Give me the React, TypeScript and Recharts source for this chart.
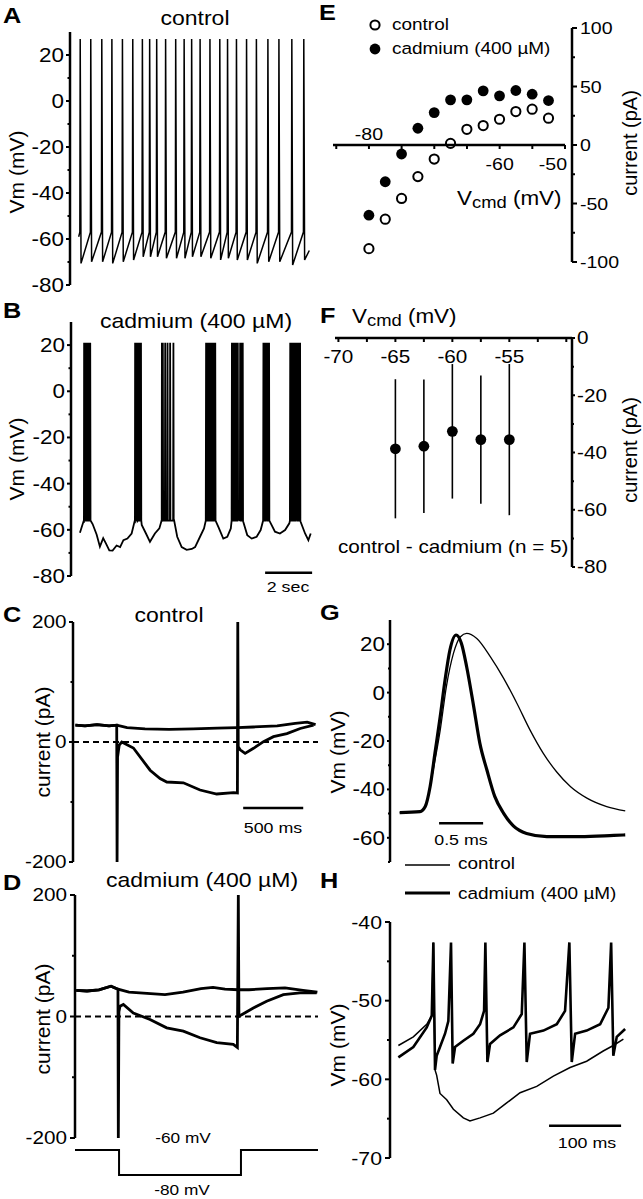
import React from 'react';
import { LineChart, Line, ScatterChart, Scatter, ErrorBar, XAxis, YAxis, ReferenceLine } from 'recharts';

const FONT = '"Liberation Sans", Arial, Helvetica, sans-serif';
const SX = 1.15; // lettering in the figure is a bit stretched sideways
const INK = '#000';

// ---------- A: control, regular firing (time s, Vm mV)
const spikeTimesA = [0.43, 0.88, 1.35, 1.78, 2.23, 2.67, 3.08, 3.39, 3.69, 4.07, 4.5, 4.86, 5.18, 5.54, 5.96, 6.38, 6.71, 7.09, 7.52, 7.94, 8.43, 8.9, 9.45, 9.96];
const troughsA = [-70.6, -69.9, -69.9, -70.6, -69.9, -69.1, -67.7, -67.7, -67.7, -68.4, -68.4, -68.4, -67.7, -67.7, -68.4, -69.1, -68.4, -69.1, -69.1, -70.6, -69.9, -69.9, -71.3, -69.1];
const peakA = 27;
const thresholdA = -57;
const startA = [0.37, -59];
const endA = [10.2, -65];

// ---------- B: cadmium, bursting (time s, Vm mV)
const baselineB = [
  [0.38, -61.3], [0.55, -57], [0.81, -55], [0.92, -57.5], [1.09, -62], [1.23, -67.3], [1.37, -63.6], [1.49, -66],
  [1.63, -68.9], [1.77, -69], [1.94, -66.8], [2.09, -67.5], [2.23, -64.5], [2.4, -63.8], [2.58, -61.6], [2.72, -57.2],
  [2.86, -55.7], [3.01, -57.9], [3.19, -61.6], [3.36, -65.2], [3.57, -61.6], [3.76, -59.4], [3.86, -56.5], [4.21, -55.7],
  [4.38, -55.5], [4.52, -63], [4.71, -67.5], [4.92, -68.7], [5.14, -68.3], [5.28, -67.5], [5.49, -63], [5.66, -59.4],
  [5.91, -55.7], [6.13, -55.7], [6.27, -58.7], [6.48, -63.8], [6.65, -63], [6.8, -59.4], [7.12, -54.3], [7.33, -56.5],
  [7.5, -62.3], [7.69, -63.8], [7.9, -63], [8.07, -60.1], [8.33, -54.3], [8.5, -57.2], [8.68, -60.8], [8.89, -61.6],
  [9.11, -60.1], [9.29, -57.2], [9.6, -55], [9.77, -56.5], [9.96, -61.6], [10.1, -64.5], [10.2, -61.6],
];
const spikeTimesB = [
  0.55, 0.6, 0.65, 0.7, 0.76, 0.81,
  2.72, 2.77, 2.82, 2.87, 2.92, 2.97,
  3.86, 3.9, 4.0, 4.1, 4.21, 4.35,
  5.74, 5.79, 5.85, 5.9, 5.96, 6.02, 6.08, 6.13,
  6.84, 6.89, 6.94, 6.99, 7.04, 7.09, 7.19, 7.25, 7.3,
  8.18, 8.24, 8.3, 8.36, 8.42,
  9.32, 9.38, 9.44, 9.5, 9.56, 9.62, 9.68, 9.74,
];
const peakB = 21;
const floorB = -56;

// ---------- C: control currents (time s, pA)
const upperC = [[0.02, 28], [0.1, 27], [0.2, 29], [0.3, 27], [0.364, 28], [0.45, 24], [0.6, 22], [0.8, 21], [1.0, 22], [1.2, 23], [1.37, 24], [1.5, 25], [1.7, 27], [1.85, 31], [1.95, 33], [2.02, 29]];
const lowerC = [
  [0.02, 28], [0.1, 27], [0.2, 29], [0.3, 27], [0.364, 28], [0.367, -200], [0.371, -25], [0.385, -5], [0.406, 0],
  [0.503, -10], [0.642, -47], [0.725, -61], [0.781, -66.7], [0.919, -68], [1.058, -80], [1.197, -86.7], [1.336, -84.4],
  [1.369, -85], [1.372, 200], [1.376, -8], [1.392, -13], [1.433, -19], [1.503, -10.5], [1.586, 0.5], [1.669, 8.9],
  [1.781, 14], [1.892, 22.5], [2.003, 28],
];

// ---------- D: cadmium currents (time s, pA) and the voltage step
const upperD = [[0.01, 43], [0.1, 42], [0.2, 44], [0.3, 50], [0.358, 45], [0.45, 40], [0.6, 38], [0.75, 36], [0.9, 40], [1.05, 46], [1.15, 48], [1.25, 45], [1.36, 44], [1.45, 44], [1.6, 46], [1.75, 47], [1.9, 43], [2.02, 40]];
const lowerD = [
  [0.01, 43], [0.1, 42], [0.2, 44], [0.3, 50], [0.358, 45], [0.361, -200], [0.366, 8], [0.375, 17], [0.403, 19.7],
  [0.486, 5.8], [0.625, -4.9], [0.764, -18.6], [0.903, -24], [1.042, -35], [1.181, -43], [1.319, -46], [1.353, -51],
  [1.361, 200], [1.366, 0], [1.389, 3], [1.486, 14], [1.597, 25], [1.736, 36], [1.875, 39], [2.014, 39],
];
const protocolD = [[0, -60], [0.367, -60], [0.367, -80], [1.383, -80], [1.383, -60], [2.025, -60]];

// ---------- E: I-V (mV, pA)
const vcmdE = [-80, -77.5, -75, -72.5, -70, -67.5, -65, -62.5, -60, -57.5, -55, -52.5];
const controlE = [-88.6, -63.4, -45.7, -27, -12, 1.4, 13.4, 16.6, 22, 28.6, 30.6, 22.9];
const cadmiumE = [-60, -31.4, -7.7, 14.3, 27.7, 38.6, 38.6, 46.3, 42, 46.6, 43.4, 38];

// ---------- F: difference current, mean +/- SD (mV, pA)
const vcmdF = [-65, -62.5, -60, -57.5, -55];
const meanF = [-38.7, -37.8, -32.6, -35.5, -35.5];
const sdF = [24.3, 23.3, 23.5, 22.4, 26.4];

// ---------- G: spike shape (ms, mV)
const controlG = [[0.11, -49.6], [0.34, -49.2], [0.42, -45], [0.49, -32], [0.57, -15.5], [0.64, 2.5], [0.72, 16.2], [0.8, 23.1], [0.87, 24.5], [0.985, 22.4], [1.14, 14.8], [1.29, 5.9], [1.44, -4.4], [1.59, -15.5], [1.74, -25.1], [1.89, -32.7], [2.05, -38.9], [2.24, -43.7], [2.46, -47.1], [2.67, -48.9]];
const cadmiumG = [[0.11, -49.6], [0.34, -49.2], [0.4, -47.1], [0.455, -38.9], [0.51, -25.1], [0.57, -9.9], [0.625, 5.2], [0.68, 17.6], [0.75, 23.8], [0.81, 20.4], [0.87, 10.7], [0.95, -5.8], [1.02, -21], [1.1, -32], [1.19, -43], [1.29, -49.9], [1.4, -55.1], [1.55, -58.2], [1.78, -59.5], [2.16, -59.5], [2.54, -59], [2.67, -58.8]];

// ---------- H: after-hyperpolarisation (ms, mV)
const controlH = [[11.6, -55.7], [32.4, -54.6], [51, -53], [58, -51.9], [60.2, -42.6], [62.5, -58.8], [64.8, -59.5], [69.4, -61.8], [78.7, -62.6], [88, -63.8], [101.8, -64.9], [111, -65.3], [125, -64.9], [143.5, -64.3], [162, -63], [180.6, -61.7], [203.7, -60.9], [226.8, -59.6], [250, -58.5], [273, -57.7], [296, -56.4], [310, -55.7], [324, -54.9]];
const cadmiumH = [[11.6, -57.2], [32.4, -55.9], [51, -53.4], [58, -51.9], [60.2, -42.6], [62.5, -58.8], [64.8, -57], [69.4, -55.9], [76.4, -54.2], [81, -52.6], [84.7, -42.6], [87, -58], [90.3, -55.9], [101.8, -55.1], [115.7, -54.2], [125, -53], [130.6, -51.3], [132.4, -42.6], [135.2, -57.8], [138.9, -55.5], [152.8, -54.4], [171.3, -53.4], [182.9, -51.7], [186.6, -42.6], [189.8, -57.8], [194.4, -54.2], [213, -53.8], [231.5, -53], [243, -51.3], [249, -42.6], [252.3, -57.8], [257, -54.2], [273, -53.8], [291.7, -53], [303.2, -50.9], [307, -42.6], [310, -57], [314.8, -54.6], [326.4, -53.6]];

// ---------- ticks
const vmTicks = [-80, -70, -60, -50, -40, -30, -20, -10, 0, 10, 20];
const vmLabels = [-80, -60, -40, -20, 0, 20];
const pATicks = [-200, -100, 0, 100, 200];
const pALabels = [-200, 0, 200];
const eTicks = [-100, -75, -50, -25, 0, 25, 50, 75, 100];
const eLabels = [-100, -50, 0, 50, 100];
const eXTicks = [-85, -80, -75, -70, -65, -60, -55, -50];
const eXLabels = [-80, -60, -50];
const fTicks = [-80, -70, -60, -50, -40, -30, -20, -10, 0];
const fLabels = [-80, -60, -40, -20, 0];
const fXTicks = [-70, -67.5, -65, -62.5, -60, -57.5, -55, -52.5, -50];
const fXLabels = [-70, -65, -60, -55];
const gTicks = [-70, -60, -50, -40, -30, -20, -10, 0, 10, 20];
const gLabels = [-60, -40, -20, 0, 20];
const hTicks = [-70, -65, -60, -55, -50, -45, -40];
const hLabels = [-70, -60, -50, -40];

const rows = (pts: number[][]) => pts.map(([t, v]) => ({ t, v }));

const traceA = [
  { t: startA[0], v: startA[1] },
  ...spikeTimesA.flatMap((t, i) => [
    { t: t - 0.01, v: thresholdA },
    { t: t + 0.005, v: peakA },
    { t: t + 0.04, v: troughsA[i] },
  ]),
  { t: endA[0], v: endA[1] },
];

const traceB = [
  ...rows(baselineB),
  ...spikeTimesB.flatMap((t) => [
    { t: t - 0.005, v: floorB },
    { t: t + 0.008, v: peakB },
    { t: t + 0.02, v: floorB },
  ]),
].sort((a, b) => a.t - b.t);

const rowsE = (ys: number[]) => vcmdE.map((x, i) => ({ x, y: ys[i] }));
const rowsF = vcmdF.map((x, i) => ({ x, y: meanF[i], sd: sdF[i] }));

const axisLine = { stroke: INK, strokeWidth: 2.5 };

const SText = ({ x, y, size, anchor = 'start', bold = false, children }: any) => (
  <text
    transform={`translate(${x} ${y}) scale(${SX} 1)`}
    fontSize={size}
    fontWeight={bold ? 700 : 400}
    textAnchor={anchor}
    fontFamily={FONT}
    fill={INK}
  >
    {children}
  </text>
);

const VText = ({ x, y, size = 21, children }: any) => (
  <text
    transform={`translate(${x} ${y}) rotate(-90)`}
    fontSize={size}
    textAnchor="middle"
    dominantBaseline="central"
    fontFamily={FONT}
    fill={INK}
  >
    {children}
  </text>
);

type TickCfg = { side: 'left' | 'right'; labels: number[]; major: number; minor: number; gap: number; size: number };

const yTick = (c: TickCfg) => (p: any) => {
  const v = p.payload.value;
  const big = c.labels.includes(v);
  const d = c.side === 'left' ? -1 : 1;
  const len = big ? c.major : c.minor;
  return (
    <g>
      <line x1={p.x} y1={p.y} x2={p.x + d * len} y2={p.y} stroke={INK} strokeWidth={2} />
      {big && (
        <SText x={p.x + d * (len + c.gap)} y={p.y + c.size * 0.36} size={c.size} anchor={c.side === 'left' ? 'end' : 'start'}>
          {String(v)}
        </SText>
      )}
    </g>
  );
};

const tickEX = (p: any) => {
  const v = p.payload.value;
  const above = v === -80;
  return (
    <g>
      <line x1={p.x} y1={p.y} x2={p.x} y2={p.y + 4} stroke={INK} strokeWidth={2} />
      {eXLabels.includes(v) && (
        <SText x={v === -50 ? p.x + 2 : p.x} y={above ? p.y - 5 : p.y + 25} size={17} anchor={v === -50 ? 'end' : 'middle'}>
          {String(v)}
        </SText>
      )}
    </g>
  );
};

const tickFX = (p: any) => {
  const v = p.payload.value;
  return (
    <g>
      <line x1={p.x} y1={p.y} x2={p.x} y2={p.y + 4} stroke={INK} strokeWidth={2} />
      {fXLabels.includes(v) && (
        <SText x={p.x} y={p.y + 25} size={18} anchor="middle">
          {String(v)}
        </SText>
      )}
    </g>
  );
};

const openDot = (p: any) => <circle cx={p.cx} cy={p.cy} r={4.6} fill="#fff" stroke={INK} strokeWidth={2} />;
const filledDot = (p: any) => <circle cx={p.cx} cy={p.cy} r={5.4} fill={INK} />;

const Box = ({ left, top, children }: any) => (
  <div style={{ position: 'absolute', left, top }}>{children}</div>
);

export default function App() {
  return (
    <div style={{ position: 'absolute', left: 0, top: 0, width: 643, height: 1199, background: '#fff', overflow: 'hidden', fontFamily: FONT }}>
      {/* A */}
      <Box left={0} top={0}>
        <LineChart width={320} height={300} margin={{ top: 32, right: 6, bottom: 15, left: 0 }}>
          <XAxis type="number" dataKey="t" domain={[0, 10.4]} hide allowDataOverflow />
          <YAxis width={70} domain={[-80, 30]} ticks={vmTicks} interval={0} tickSize={0} tickMargin={0} tickLine={false} axisLine={axisLine}
            tick={yTick({ side: 'left', labels: vmLabels, major: 4, minor: 2.5, gap: 2, size: 19.5 })} />
          <Line data={traceA} dataKey="v" type="linear" stroke={INK} strokeWidth={1.5} dot={false} isAnimationActive={false} />
        </LineChart>
      </Box>

      {/* B */}
      <Box left={0} top={300}>
        <LineChart width={320} height={290} margin={{ top: 22, right: 6, bottom: 14, left: 0 }}>
          <XAxis type="number" dataKey="t" domain={[0, 10.34]} hide allowDataOverflow />
          <YAxis width={71} domain={[-80, 30]} ticks={vmTicks} interval={0} tickSize={0} tickMargin={0} tickLine={false} axisLine={axisLine}
            tick={yTick({ side: 'left', labels: vmLabels, major: 4, minor: 2.5, gap: 2, size: 19.5 })} />
          <Line data={traceB} dataKey="v" type="linear" stroke={INK} strokeWidth={1.8} dot={false} isAnimationActive={false} />
          <ReferenceLine segment={[{ x: 8.26, y: -78.6 }, { x: 10.26, y: -78.6 }]} stroke={INK} strokeWidth={2.5} />
        </LineChart>
      </Box>

      {/* C */}
      <Box left={0} top={600}>
        <LineChart width={320} height={280} margin={{ top: 22, right: 2, bottom: 18, left: 0 }}>
          <XAxis type="number" dataKey="t" domain={[0, 2.04]} hide allowDataOverflow />
          <YAxis width={73} domain={[-200, 200]} ticks={pATicks} interval={0} tickSize={0} tickMargin={0} tickLine={false} axisLine={axisLine}
            tick={yTick({ side: 'left', labels: pALabels, major: 4, minor: 2.5, gap: 2.5, size: 18 })} />
          <ReferenceLine y={0} stroke={INK} strokeWidth={2} strokeDasharray="6 4" />
          <Line data={rows(upperC)} dataKey="v" type="linear" stroke={INK} strokeWidth={2.8} dot={false} isAnimationActive={false} />
          <Line data={rows(lowerC)} dataKey="v" type="linear" stroke={INK} strokeWidth={2.8} dot={false} isAnimationActive={false} />
          <ReferenceLine segment={[{ x: 1.417, y: -110 }, { x: 1.917, y: -110 }]} stroke={INK} strokeWidth={2.5} />
        </LineChart>
      </Box>

      {/* D */}
      <Box left={0} top={870}>
        <LineChart width={320} height={280} margin={{ top: 25, right: 2, bottom: 12, left: 0 }}>
          <XAxis type="number" dataKey="t" domain={[0, 2.025]} hide allowDataOverflow />
          <YAxis width={75} domain={[-200, 200]} ticks={pATicks} interval={0} tickSize={0} tickMargin={0} tickLine={false} axisLine={axisLine}
            tick={yTick({ side: 'left', labels: pALabels, major: 5, minor: 3, gap: 3, size: 18 })} />
          <ReferenceLine y={0} stroke={INK} strokeWidth={2} strokeDasharray="6 4" />
          <Line data={rows(upperD)} dataKey="v" type="linear" stroke={INK} strokeWidth={2.8} dot={false} isAnimationActive={false} />
          <Line data={rows(lowerD)} dataKey="v" type="linear" stroke={INK} strokeWidth={2.8} dot={false} isAnimationActive={false} />
        </LineChart>
      </Box>
      <Box left={0} top={1140}>
        <LineChart width={320} height={45} margin={{ top: 10, right: 2, bottom: 10, left: 75 }}>
          <XAxis type="number" dataKey="t" domain={[0, 2.025]} hide />
          <YAxis hide domain={[-80, -60]} />
          <Line data={rows(protocolD)} dataKey="v" type="linear" stroke={INK} strokeWidth={2} dot={false} isAnimationActive={false} />
        </LineChart>
      </Box>

      {/* E */}
      <Box left={320} top={0}>
        <ScatterChart width={323} height={280} margin={{ top: 28, right: 0, bottom: 18, left: 13 }}>
          <XAxis type="number" dataKey="x" domain={[-85.5, -48.9]} hide allowDataOverflow />
          <YAxis type="number" dataKey="y" orientation="right" width={71} domain={[-100, 100]} ticks={eTicks} interval={0} tickSize={0} tickMargin={0}
            tickLine={false} axisLine={axisLine} tick={yTick({ side: 'right', labels: eLabels, major: 5, minor: 3, gap: 3, size: 17 })} />
          <Scatter data={rowsE(controlE)} shape={openDot} isAnimationActive={false} />
          <Scatter data={rowsE(cadmiumE)} shape={filledDot} isAnimationActive={false} />
        </ScatterChart>
      </Box>
      <Box left={333} top={115}>
        <LineChart width={252} height={60} margin={{ top: 0, right: 20, bottom: 0, left: 0 }}>
          <XAxis type="number" dataKey="x" domain={[-85.5, -50]} ticks={eXTicks} height={30} interval={0} tickSize={0} tickMargin={0}
            tickLine={false} axisLine={axisLine} tick={tickEX} allowDataOverflow />
          <YAxis hide domain={[-1, 1]} />
          <Line data={[{ x: -85.5, y: 0 }, { x: -50, y: 0 }]} dataKey="y" stroke="none" dot={false} isAnimationActive={false} />
        </LineChart>
      </Box>

      {/* F */}
      <Box left={320} top={280}>
        <ScatterChart width={323} height={300} margin={{ top: 28, right: 0, bottom: 13, left: 15 }}>
          <XAxis type="number" dataKey="x" orientation="top" height={30} domain={[-70.3, -49.5]} ticks={fXTicks} interval={0} tickSize={0}
            tickMargin={0} tickLine={false} axisLine={axisLine} tick={tickFX} allowDataOverflow />
          <YAxis type="number" dataKey="y" orientation="right" width={71} domain={[-80, 0]} ticks={fTicks} interval={0} tickSize={0} tickMargin={0}
            tickLine={false} axisLine={axisLine} tick={yTick({ side: 'right', labels: fLabels, major: 3, minor: 2, gap: 2, size: 18 })} />
          <Scatter data={rowsF} shape={filledDot} isAnimationActive={false}>
            <ErrorBar dataKey="sd" direction="y" width={0} stroke={INK} strokeWidth={1.6} isAnimationActive={false} />
          </Scatter>
        </ScatterChart>
      </Box>

      {/* G */}
      <Box left={320} top={600}>
        <LineChart width={323} height={270} margin={{ top: 20, right: 16, bottom: 8, left: 0 }}>
          <XAxis type="number" dataKey="t" domain={[0, 2.69]} hide allowDataOverflow />
          <YAxis width={70} domain={[-70, 30]} ticks={gTicks} interval={0} tickSize={0} tickMargin={0} tickLine={false} axisLine={axisLine}
            tick={yTick({ side: 'left', labels: gLabels, major: 3, minor: 2, gap: 2, size: 19.5 })} />
          <Line data={rows(controlG)} dataKey="v" type="monotone" stroke={INK} strokeWidth={1.3} dot={false} isAnimationActive={false} />
          <Line data={rows(cadmiumG)} dataKey="v" type="monotone" stroke={INK} strokeWidth={3.2} dot={false} isAnimationActive={false} />
          <ReferenceLine segment={[{ x: 0.557, y: -54 }, { x: 1.057, y: -54 }]} stroke={INK} strokeWidth={2.5} />
        </LineChart>
      </Box>

      {/* H */}
      <Box left={320} top={880}>
        <LineChart width={323} height={300} margin={{ top: 42, right: 16, bottom: 22, left: 0 }}>
          <XAxis type="number" dataKey="t" domain={[0, 329]} hide allowDataOverflow />
          <YAxis width={70} domain={[-70, -40]} ticks={hTicks} interval={0} tickSize={0} tickMargin={0} tickLine={false} axisLine={axisLine}
            tick={yTick({ side: 'left', labels: hLabels, major: 5, minor: 3, gap: 3, size: 18.5 })} />
          <Line data={rows(controlH)} dataKey="v" type="linear" stroke={INK} strokeWidth={1.5} dot={false} isAnimationActive={false} />
          <Line data={rows(cadmiumH)} dataKey="v" type="linear" stroke={INK} strokeWidth={2.6} dot={false} isAnimationActive={false} />
          <ReferenceLine segment={[{ x: 220.8, y: -65.9 }, { x: 320.8, y: -65.9 }]} stroke={INK} strokeWidth={2.5} />
        </LineChart>
      </Box>

      {/* lettering, legends */}
      <svg width={643} height={1199} style={{ position: 'absolute', left: 0, top: 0, pointerEvents: 'none' }}>
        <SText x={3} y={23} size={22} bold>A</SText>
        <SText x={3} y={318} size={22} bold>B</SText>
        <SText x={3} y={622} size={22} bold>C</SText>
        <SText x={3} y={890} size={22} bold>D</SText>
        <SText x={319} y={20} size={22} bold>E</SText>
        <SText x={320} y={323} size={22} bold>F</SText>
        <SText x={320} y={620} size={22} bold>G</SText>
        <SText x={320} y={888} size={22} bold>H</SText>

        <SText x={195} y={25} size={20} anchor="middle">control</SText>
        <SText x={196} y={328} size={20} anchor="middle">cadmium (400 µM)</SText>
        <SText x={169} y={622} size={20} anchor="middle">control</SText>
        <SText x={202} y={887} size={20} anchor="middle">cadmium (400 µM)</SText>

        <VText x={16.5} y={172}>Vm (mV)</VText>
        <VText x={16.5} y={459}>Vm (mV)</VText>
        <VText x={42} y={742}>current (pA)</VText>
        <VText x={42.5} y={1019}>current (pA)</VText>
        <VText x={337} y={752}>Vm (mV)</VText>
        <VText x={337} y={1045}>Vm (mV)</VText>
        <VText x={630} y={143} size={20}>current (pA)</VText>
        <VText x={630} y={450} size={20}>current (pA)</VText>

        <SText x={288} y={592} size={15.5} anchor="middle">2 sec</SText>
        <SText x={273} y={833} size={15.5} anchor="middle">500 ms</SText>
        <SText x={461} y={845} size={15.5} anchor="middle">0.5 ms</SText>
        <SText x={587} y={1148} size={15.5} anchor="middle">100 ms</SText>
        <SText x={183} y={1143} size={15} anchor="middle">-60 mV</SText>
        <SText x={182} y={1195} size={15} anchor="middle">-80 mV</SText>

        <circle cx={375} cy={25} r={4.6} fill="#fff" stroke={INK} strokeWidth={2} />
        <SText x={392} y={30} size={16.5}>control</SText>
        <circle cx={375} cy={49} r={5.4} fill={INK} />
        <SText x={392} y={54} size={16.5}>cadmium (400 µM)</SText>

        <text transform={`translate(457 205) scale(${SX} 1)`} fontSize={19.5} fontFamily={FONT} fill={INK}>
          V<tspan fontSize={16} dy={3}>cmd</tspan><tspan dy={-3}> (mV)</tspan>
        </text>
        <text transform={`translate(352 323) scale(${SX} 1)`} fontSize={19.5} fontFamily={FONT} fill={INK}>
          V<tspan fontSize={16} dy={3}>cmd</tspan><tspan dy={-3}> (mV)</tspan>
        </text>
        <SText x={338} y={553} size={18}>control - cadmium (n = 5)</SText>

        <line x1={405} y1={865} x2={450} y2={865} stroke={INK} strokeWidth={1.3} />
        <SText x={458} y={869} size={16.5}>control</SText>
        <line x1={405} y1={893} x2={450} y2={893} stroke={INK} strokeWidth={3} />
        <SText x={458} y={899} size={16.5}>cadmium (400 µM)</SText>
      </svg>
    </div>
  );
}
